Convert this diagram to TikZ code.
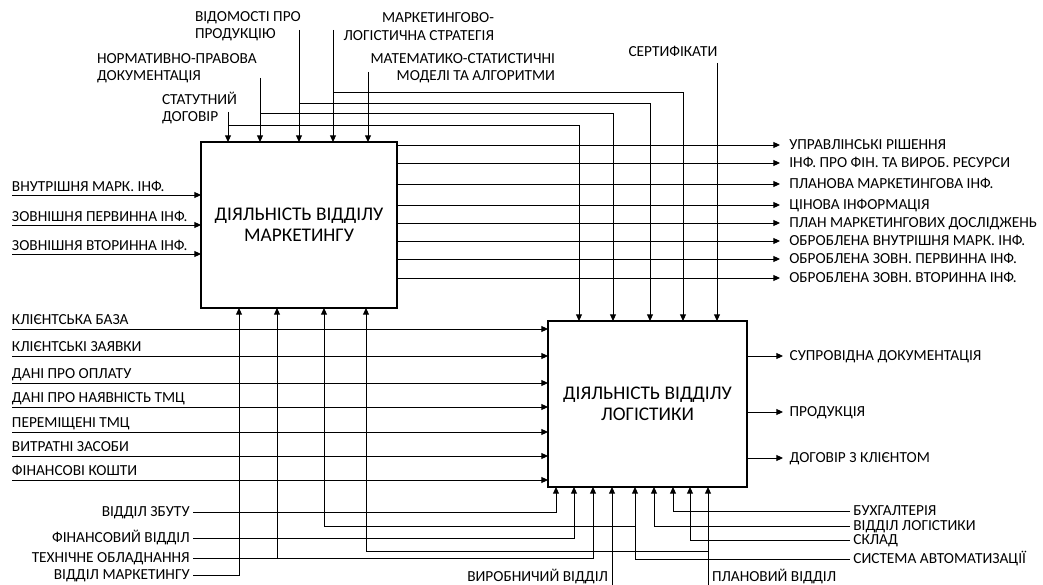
\documentclass[tikz,border=0pt]{standalone}
\usepackage{fontspec}
\setmainfont{Carlito}
\usetikzlibrary{arrows.meta,calc}

\begin{document}
\begin{tikzpicture}[x=0.75pt, y=-0.75pt,
    every node/.style={font=\fontsize{11.5}{13}\selectfont, inner sep=0pt, outer sep=0pt},
    box/.style={draw, line width=0.8pt, align=center, minimum height=124.5pt,
      font=\fontsize{14.5}{15.8}\selectfont},
    lbl/.style={text height=0.65em, text depth=0pt},
    arr/.style={draw, line width=0.7pt, -{Triangle[length=5pt,width=4.5pt]}}]
  \useasboundingbox (0,0) rectangle (1043,585);
  % Boxes
  \node[box, minimum width=147pt] (mk) at (299,225) {ДІЯЛЬНІСТЬ ВІДДІЛУ\\МАРКЕТИНГУ};
  \node[box, minimum width=149.25pt] (lg) at (647.5,404) {ДІЯЛЬНІСТЬ ВІДДІЛУ\\ЛОГІСТИКИ};
  % Top controls
  \node[align=left, anchor=west] (stat) at (162,108) {СТАТУТНИЙ\\ДОГОВІР};
  \node[align=left, anchor=west] (norm) at (97,68) {НОРМАТИВНО-ПРАВОВА\\ДОКУМЕНТАЦІЯ};
  \node[align=left, anchor=west] (vid) at (195,26.5) {ВІДОМОСТІ ПРО\\ПРОДУКЦІЮ};
  \node[align=right, anchor=east] (mls) at (494,26.5) {МАРКЕТИНГОВО-\\ЛОГІСТИЧНА СТРАТЕГІЯ};
  \node[align=right, anchor=east] (mat) at (555,68) {МАТЕМАТИКО-СТАТИСТИЧНІ\\МОДЕЛІ ТА АЛГОРИТМИ};
  \node[lbl] (sert) at (673,52) {СЕРТИФІКАТИ};
  \coordinate (u1) at (228,112);
  \coordinate (u2) at (260,78);
  \coordinate (u3) at (299,30);
  \coordinate (u4) at (333,30);
  \coordinate (u5) at (368,72);
  \coordinate (u6) at (717,63);
  \coordinate (j1) at (228,125);
  \coordinate (j2) at (260,113);
  \coordinate (j3) at (299,103);
  \coordinate (j4) at (333,92);
  \foreach \x [count=\i] in {579,613,650,683,717}
    \coordinate (t\i) at (\x,0);
  \foreach \i in {1,...,5}
    \draw[arr] (u\i) -- (u\i |- mk.north);
  \foreach \i in {1,...,4}
    \draw[arr] (j\i) -| (t\i |- lg.north);
  \draw[arr] (u6) -- (t5 |- lg.north);
  % Marketing inputs
  \foreach \y/\t [count=\i] in {195/ВНУТРІШНЯ МАРК. ІНФ., 225/ЗОВНІШНЯ ПЕРВИННА ІНФ.,
      254/ЗОВНІШНЯ ВТОРИННА ІНФ.} {
    \coordinate (mi\i) at (12,\y);
    \node[anchor=base west] (mil\i) at (12,\y-4) {\t};
    \draw[arr] (mi\i) -- (mi\i -| mk.west);
  }
  % Marketing outputs
  \foreach \y/\t [count=\i] in {145/УПРАВЛІНСЬКІ РІШЕННЯ, 163/ІНФ. ПРО ФІН. ТА ВИРОБ. РЕСУРСИ,
      184/ПЛАНОВА МАРКЕТИНГОВА ІНФ., 205/ЦІНОВА ІНФОРМАЦІЯ, 223/ПЛАН МАРКЕТИНГОВИХ ДОСЛІДЖЕНЬ,
      241/ОБРОБЛЕНА ВНУТРІШНЯ МАРК. ІНФ., 259/ОБРОБЛЕНА ЗОВН. ПЕРВИННА ІНФ.,
      278/ОБРОБЛЕНА ЗОВН. ВТОРИННА ІНФ.} {
    \node[lbl, anchor=west, inner xsep=7pt] (mo\i) at (780,\y) {\t};
    \draw[arr] (mk.east |- mo\i) -- (mo\i.west);
  }
  % Logistics inputs
  \foreach \y/\t [count=\i] in {329/КЛІЄНТСЬКА БАЗА, 356/КЛІЄНТСЬКІ ЗАЯВКИ, 383/ДАНІ ПРО ОПЛАТУ,
      407/ДАНІ ПРО НАЯВНІСТЬ ТМЦ, 432/ПЕРЕМІЩЕНІ ТМЦ, 456/ВИТРАТНІ ЗАСОБИ, 480/ФІНАНСОВІ КОШТИ} {
    \coordinate (li\i) at (12,\y);
    \node[anchor=base west] (lil\i) at (12,\y-5) {\t};
    \draw[arr] (li\i) -- (li\i -| lg.west);
  }
  % Logistics outputs
  \foreach \y/\t [count=\i] in {356/СУПРОВІДНА ДОКУМЕНТАЦІЯ, 412/ПРОДУКЦІЯ, 458/ДОГОВІР З КЛІЄНТОМ} {
    \node[lbl, anchor=west, inner xsep=5pt] (lo\i) at (783,\y) {\t};
    \draw[arr] (lg.east |- lo\i) -- (lo\i.west);
  }
  % Mechanisms
  \foreach \x [count=\i] in {239,277,324,366}
    \coordinate (d\i) at (\x,0);
  \foreach \x [count=\i] in {556,574,593,612,635,654,673,690,708}
    \coordinate (b\i) at (\x,0);
  \node[lbl, anchor=east, inner xsep=2.5pt] (zb) at (193,512) {ВІДДІЛ ЗБУТУ};
  \node[lbl, anchor=east, inner xsep=2.5pt] (fv) at (193,538) {ФІНАНСОВИЙ ВІДДІЛ};
  \node[lbl, anchor=east, inner xsep=2.5pt] (to) at (193,558) {ТЕХНІЧНЕ ОБЛАДНАННЯ};
  \node[lbl, anchor=east, inner xsep=2.5pt] (vm) at (193,575) {ВІДДІЛ МАРКЕТИНГУ};
  \draw[arr] (zb.east) -| (b1 |- lg.south);
  \draw[arr] (fv.east) -| (b2 |- lg.south);
  \draw[arr] (to.east) -| (b3 |- lg.south);
  \draw[arr] (to.east -| d2) -- (d2 |- mk.south);
  \draw[arr] (vm.east) -| (d1 |- mk.south);
  \node[lbl, anchor=west, inner xsep=2.5pt] (bh) at (850,511) {БУХГАЛТЕРІЯ};
  \node[lbl, anchor=west, inner xsep=2.5pt] (vl) at (850,526) {ВІДДІЛ ЛОГІСТИКИ};
  \node[lbl, anchor=west, inner xsep=2.5pt] (sk) at (850,540) {СКЛАД};
  \node[lbl, anchor=west, inner xsep=2.5pt] (sa) at (850,559) {СИСТЕМА АВТОМАТИЗАЦІЇ};
  \draw[arr] (bh.west) -| (b7 |- lg.south);
  \draw[arr] (vl.west) -| (b6 |- lg.south);
  \draw[arr] (sk.west) -| (b8 |- lg.south);
  \draw[arr] (sa.west) -| (b5 |- lg.south);
  \coordinate (sab) at (635,526);
  \draw[arr] (sab) -| (d3 |- mk.south);
  \node[lbl, anchor=east, inner xsep=3pt] (vr) at (612,577) {ВИРОБНИЧИЙ ВІДДІЛ};
  \node[lbl, anchor=west, inner xsep=3pt] (pv) at (708,577) {ПЛАНОВИЙ ВІДДІЛ};
  \coordinate (bot) at (0,586);
  \draw[arr] (vr.east |- bot) -- (b4 |- lg.south);
  \draw[arr] (pv.west |- bot) -- (b9 |- lg.south);
  \coordinate (pvb) at (708,551);
  \draw[arr] (pvb) -| (d4 |- mk.south);
\end{tikzpicture}
\end{document}
